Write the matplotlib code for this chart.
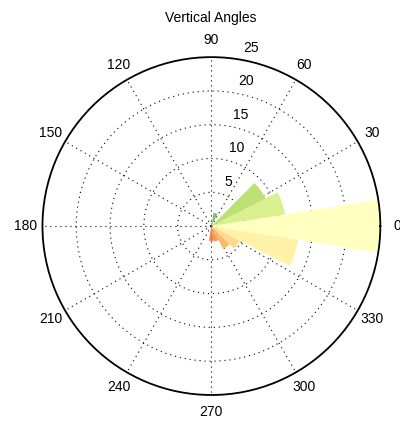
import numpy as np
import matplotlib
matplotlib.use("Agg")
import matplotlib.pyplot as plt

plt.rcParams['font.family'] = ['Liberation Sans', 'DejaVu Sans']

# rose histogram of vertical angles, 18 degree bins
binCentersDeg = [-90, -72, -54, -36, -18, 0, 18, 36, 54, 72, 90]
binCounts = [2.2, 2.3, 3.8, 4.7, 13.0, 25.0, 11.0, 9.0, 0.3, 2.0, 0.4]
binColors = ['#f47a46', '#f99a52', '#fdb96a', '#fedb8c', '#fff2a8', '#ffffc0',
             '#daef8e', '#bce172', '#9ad066', '#7cc35f', '#2f9d4e']

rTicks = [5, 10, 15, 20, 25]
thetaTicksDeg = list(range(0, 360, 30))
title = "Vertical Angles"

def main():
    fig = plt.figure(figsize=(4.0, 4.25), dpi=100)
    ax = fig.add_axes([0.106, 0.0706, 0.845, 0.795], projection='polar')

    rMax = rTicks[-1]
    binWidth = np.deg2rad(18)
    ax.bar(np.deg2rad(binCentersDeg), binCounts, width=binWidth, bottom=0,
           color=binColors, edgecolor='none', zorder=1)

    ax.set_ylim(0, rMax)
    ax.set_axisbelow(True)

    # dotted grid: rings and spokes
    ax.set_yticks(rTicks[:-1])
    ax.set_xticks(np.deg2rad(thetaTicksDeg))
    ax.set_yticklabels([])
    ax.set_xticklabels([])
    ax.tick_params(length=0)
    ax.grid(True, color='black', linestyle=(0, (1, 3.5)), linewidth=0.8)
    ax.spines['polar'].set_linewidth(1.3)

    # angle labels outside the outer circle
    for t in thetaTicksDeg:
        ax.text(np.deg2rad(t), rMax * 1.1, str(t), ha='center', va='center',
                fontsize=10, clip_on=False)

    # radius labels along the 82 degree line
    for r in rTicks:
        ax.annotate(str(r), xy=(np.deg2rad(82), r + 0.25), xytext=(5.5, 1.5),
                    textcoords='offset points', ha='left', va='bottom',
                    fontsize=10, annotation_clip=False)

    fig.text(0.526, 1 - 22 / 425, title, ha='center', va='baseline', fontsize=10)

    fig.savefig("out.png", dpi=100)

if __name__ == '__main__':
    main()
